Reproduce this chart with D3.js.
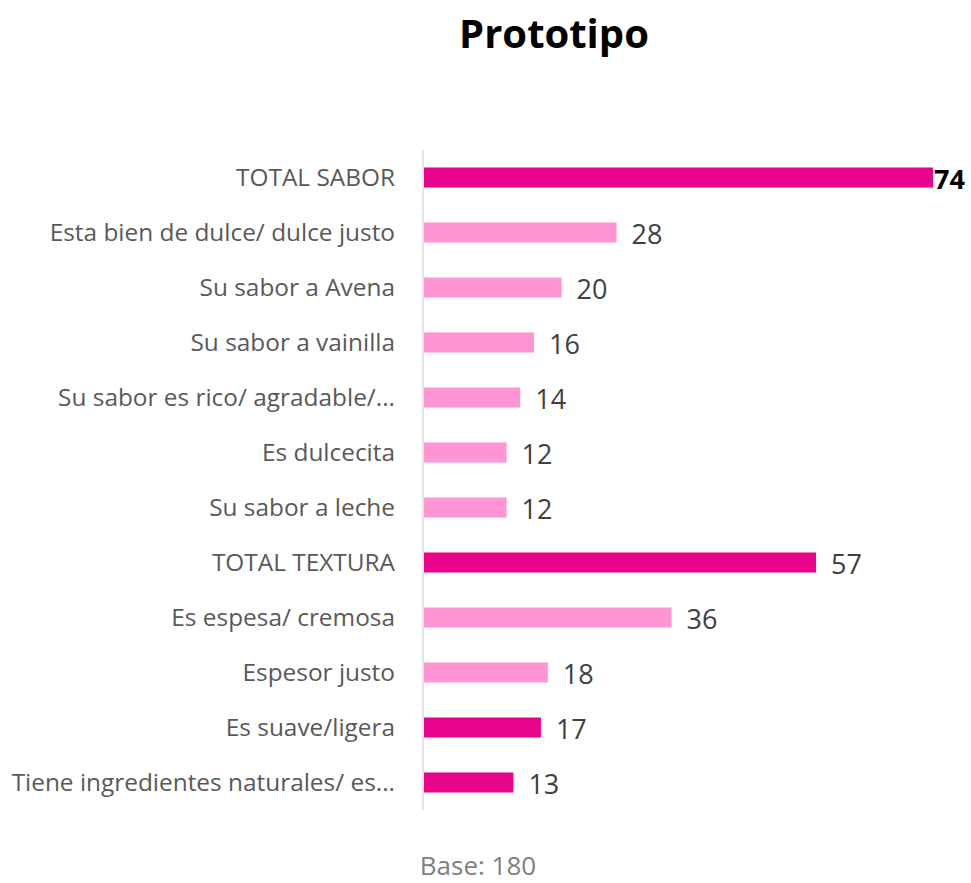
<!DOCTYPE html>
<html>
<head>
<meta charset="utf-8">
<script src="https://cdn.jsdelivr.net/npm/d3@7"></script>
<style>
  body { margin: 0; background: #fff; }
  svg { font-family: "Open Sans", "Noto Sans", sans-serif; }
</style>
</head>
<body>
<div id="chart"></div>
<script>
var categories = [
    "TOTAL SABOR",
    "Esta bien de dulce/ dulce justo",
    "Su sabor a Avena",
    "Su sabor a vainilla",
    "Su sabor es rico/ agradable/...",
    "Es dulcecita",
    "Su sabor a leche",
    "TOTAL TEXTURA",
    "Es espesa/ cremosa",
    "Espesor justo",
    "Es suave/ligera",
    "Tiene ingredientes naturales/ es..."
];
var values = [74, 28, 20, 16, 14, 12, 12, 57, 36, 18, 17, 13];
// dark = totals (and the last two rows), light = sub items
var dark = [true, false, false, false, false, false, false, true, false, false, true, true];

var W = 971, H = 883;
var margin = {top: 150, right: 39, bottom: 73, left: 423};
var width = W - margin.left - margin.right;
var height = H - margin.top - margin.bottom;

var svg = d3.select("#chart").append("svg")
    .attr("width", W)
    .attr("height", H);

// title
svg.append("text")
    .attr("x", 554)
    .attr("y", 48)
    .attr("text-anchor", "middle")
    .attr("font-size", 40)
    .attr("font-weight", "bold")
    .attr("fill", "#000")
    .text("Prototipo");

var g = svg.append("g")
    .attr("transform", "translate(" + margin.left + "," + margin.top + ")");

var x = d3.scaleLinear().domain([0, 74]).range([0, 509]);
var y = d3.scaleBand().domain(categories).range([0, height]).paddingInner(0.636).paddingOuter(0.318);

g.selectAll("rect")
    .data(categories)
    .enter().append("rect")
    .attr("x", 1)
    .attr("y", function (d) { return y(d); })
    .attr("height", y.bandwidth())
    .attr("width", function (d, i) { return x(values[i]); })
    .attr("fill", function (d, i) { return dark[i] ? "#E8048A" : "#FF95D3"; });

// category labels
g.selectAll(".cat")
    .data(categories)
    .enter().append("text")
    .attr("class", "cat")
    .attr("x", -28)
    .attr("y", function (d) { return y(d) + y.bandwidth() / 2; })
    .attr("dy", "0.35em")
    .attr("text-anchor", "end")
    .attr("font-size", 24.4)
    .attr("fill", "#595959")
    .text(function (d) { return d; });

// value labels
g.selectAll(".val")
    .data(categories)
    .enter().append("text")
    .attr("class", "val")
    .attr("x", function (d, i) { return x(values[i]) + (i == 0 ? 2 : 16); })
    .attr("y", function (d) { return y(d) + y.bandwidth() / 2; })
    .attr("dy", "0.42em")
    .attr("font-size", function (d, i) { return i == 0 ? 27 : 27; })
    .attr("font-weight", function (d, i) { return i == 0 ? "bold" : "normal"; })
    .attr("fill", function (d, i) { return i == 0 ? "#000" : "#404040"; })
    .text(function (d, i) { return values[i]; });

// vertical axis line
g.append("line")
    .attr("x1", 0).attr("x2", 0)
    .attr("y1", 0).attr("y2", height)
    .attr("stroke", "#d9d9d9")
    .attr("stroke-width", 1.5);

// base note
svg.append("text")
    .attr("x", 478)
    .attr("y", 875)
    .attr("text-anchor", "middle")
    .attr("font-size", 26)
    .attr("fill", "#7f7f7f")
    .text("Base: 180");
</script>
</body>
</html>
